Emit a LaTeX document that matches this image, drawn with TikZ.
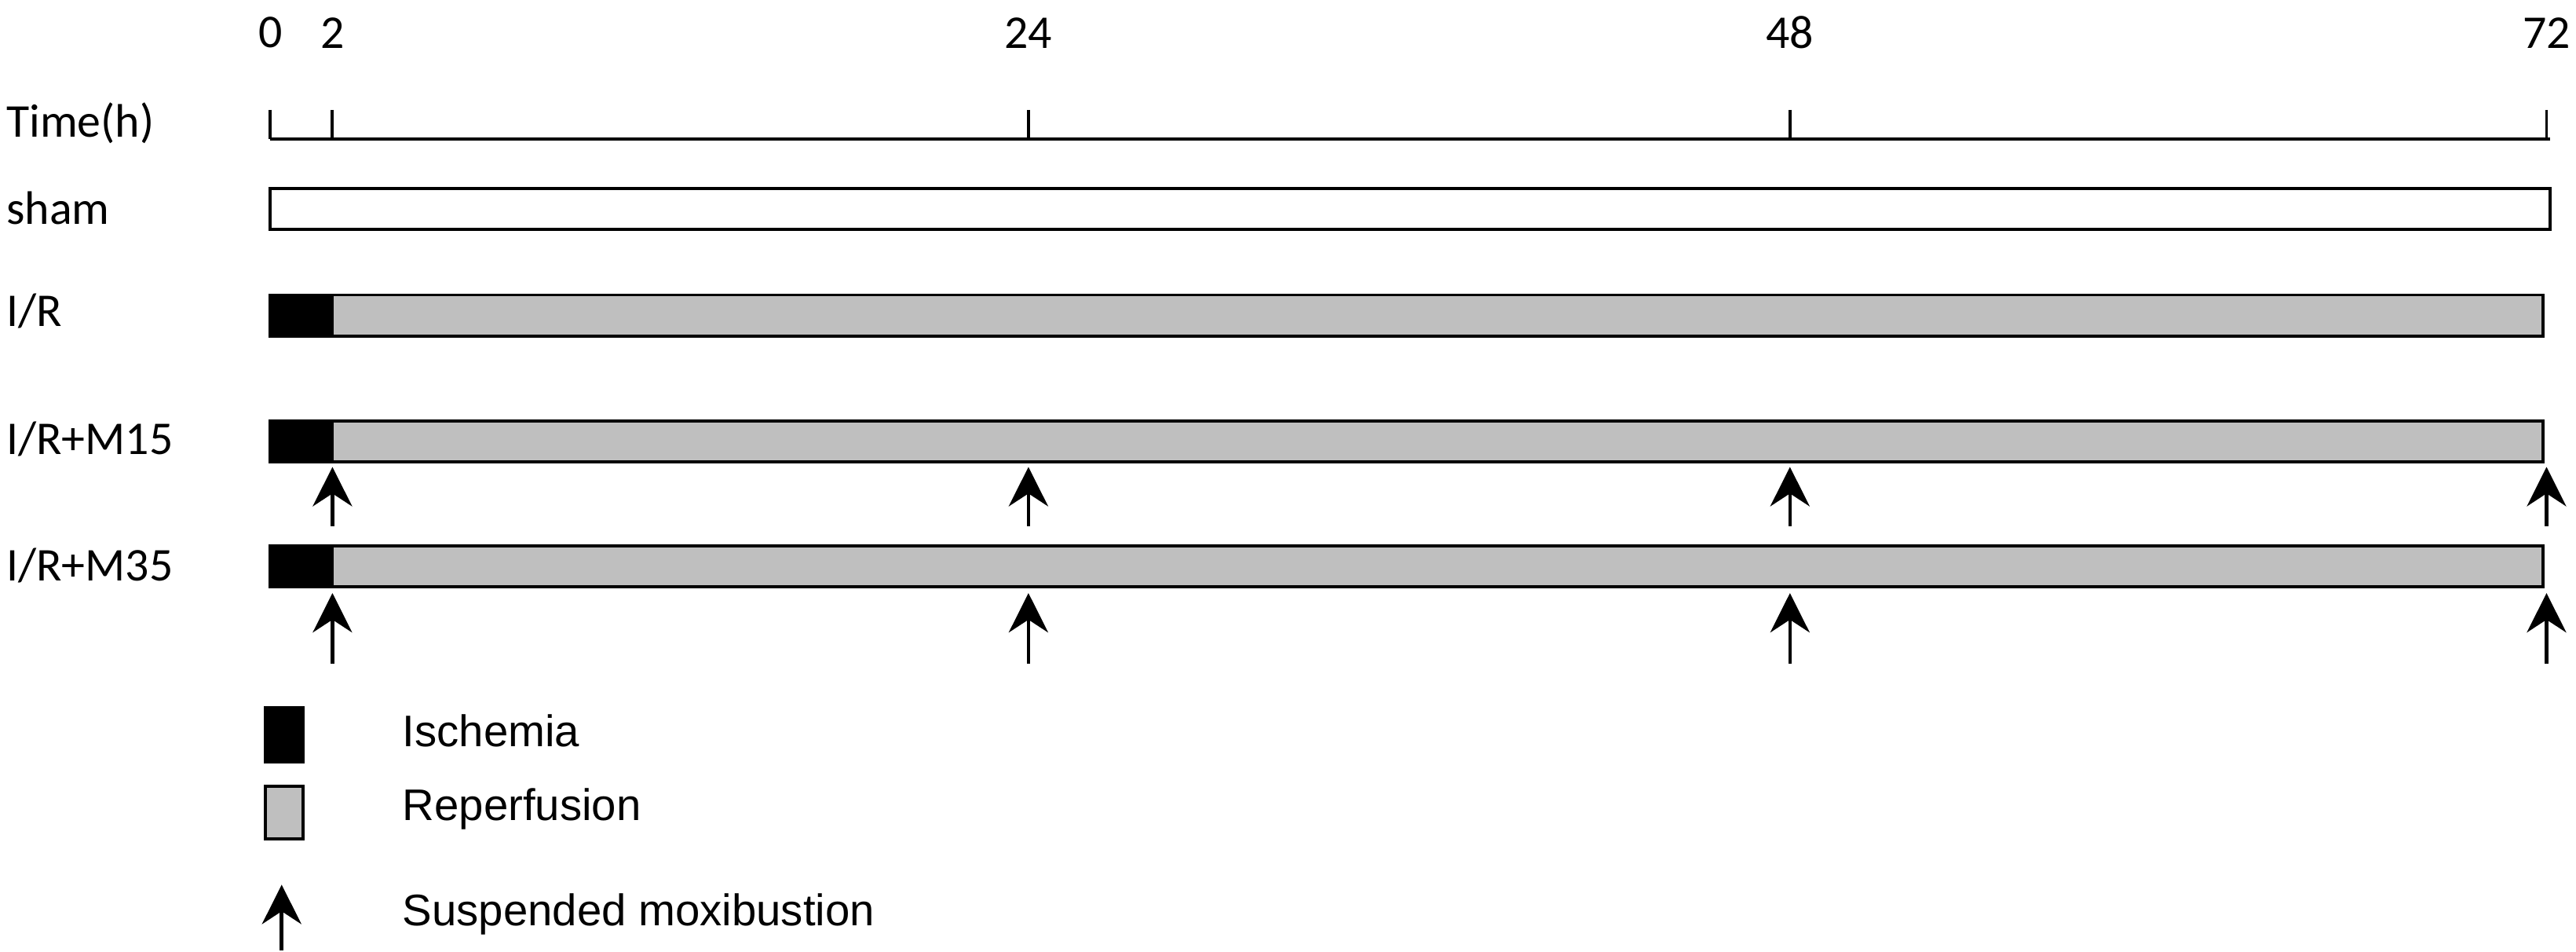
\documentclass[tikz,border=0pt]{standalone}
\usepackage{fontspec}
\setmainfont{Carlito}
\newfontfamily\legendfont{Liberation Sans}
\usetikzlibrary{arrows.meta}
\usetikzlibrary{calc}

\begin{document}
\begin{tikzpicture}[x=0.02083cm, y=-0.02083cm, line width=1.1pt,
>={Stealth[length=5mm,width=5mm]},
rowlabel/.style={anchor=west, inner sep=0pt, font=\fontsize{17}{20}\selectfont},
legendlabel/.style={anchor=west, inner sep=0pt, font=\legendfont\fontsize{16}{20}\selectfont},
ischemia/.style={draw=black, fill=black},
reperfusion/.style={draw=black, fill=black!25},
moxa/.style={->, line width=1.3pt}]

%%%%%% SETTINGS %%%%%%%%%%

\pgfmathsetmacro{\start}{165}

\useasboundingbox (0,0) rectangle (1573,581);

%%%%%% TIME AXIS %%%%%%%%%%

\node [rowlabel] (time) at (3,75) {Time(h)};
\coordinate (t0) at (\start,85);
\coordinate (t72) at (1557,85);
\draw (t0) -- (t72);
\foreach \h/\x in {0/165, 2/203, 24/628, 48/1093, 72/1555}{
  \draw (\x,67) -- (\x,85);
  \node [inner sep=1pt] (h\h) at (\x,20) {\fontsize{17}{20}\selectfont\h};
}

%%%%%% GROUPS %%%%%%%%%%

\node [rowlabel] (sham) at (3,127) {sham};
\draw (165,115) rectangle (1557,140);

\node [rowlabel] (ir) at (3,190) {I/R};
\node [rowlabel] (irm15) at (3,268) {I/R+M15};
\node [rowlabel] (irm35) at (3,345) {I/R+M35};

\foreach \y in {180, 257, 333}{
  \draw [reperfusion] (203,\y) rectangle (1553,\y+25);
  \draw [ischemia] (165,\y) rectangle (203,\y+25);
}

%%%%%% MOXIBUSTION %%%%%%%%%%

\foreach \x in {203, 628, 1093, 1555}{
  \coordinate (a\x) at (\x,321);
  \coordinate (b\x) at (\x,285);
  \draw [moxa] (a\x) -- (b\x);
  \coordinate (c\x) at (\x,405);
  \coordinate (d\x) at (\x,362);
  \draw [moxa] (c\x) -- (d\x);
}

%%%%%% LEGEND %%%%%%%%%%

\draw [ischemia] (162,432) rectangle (185,465);
\node [legendlabel] (isch) at (245,446) {Ischemia};
\draw [reperfusion] (162,480) rectangle (185,512);
\node [legendlabel] (rep) at (245,494) {Reperfusion};
\coordinate (la) at (172,580);
\coordinate (lb) at (172,540);
\draw [moxa] (la) -- (lb);
\node [legendlabel] (mox) at (245,558) {Suspended moxibustion};

\end{tikzpicture}
\end{document}
